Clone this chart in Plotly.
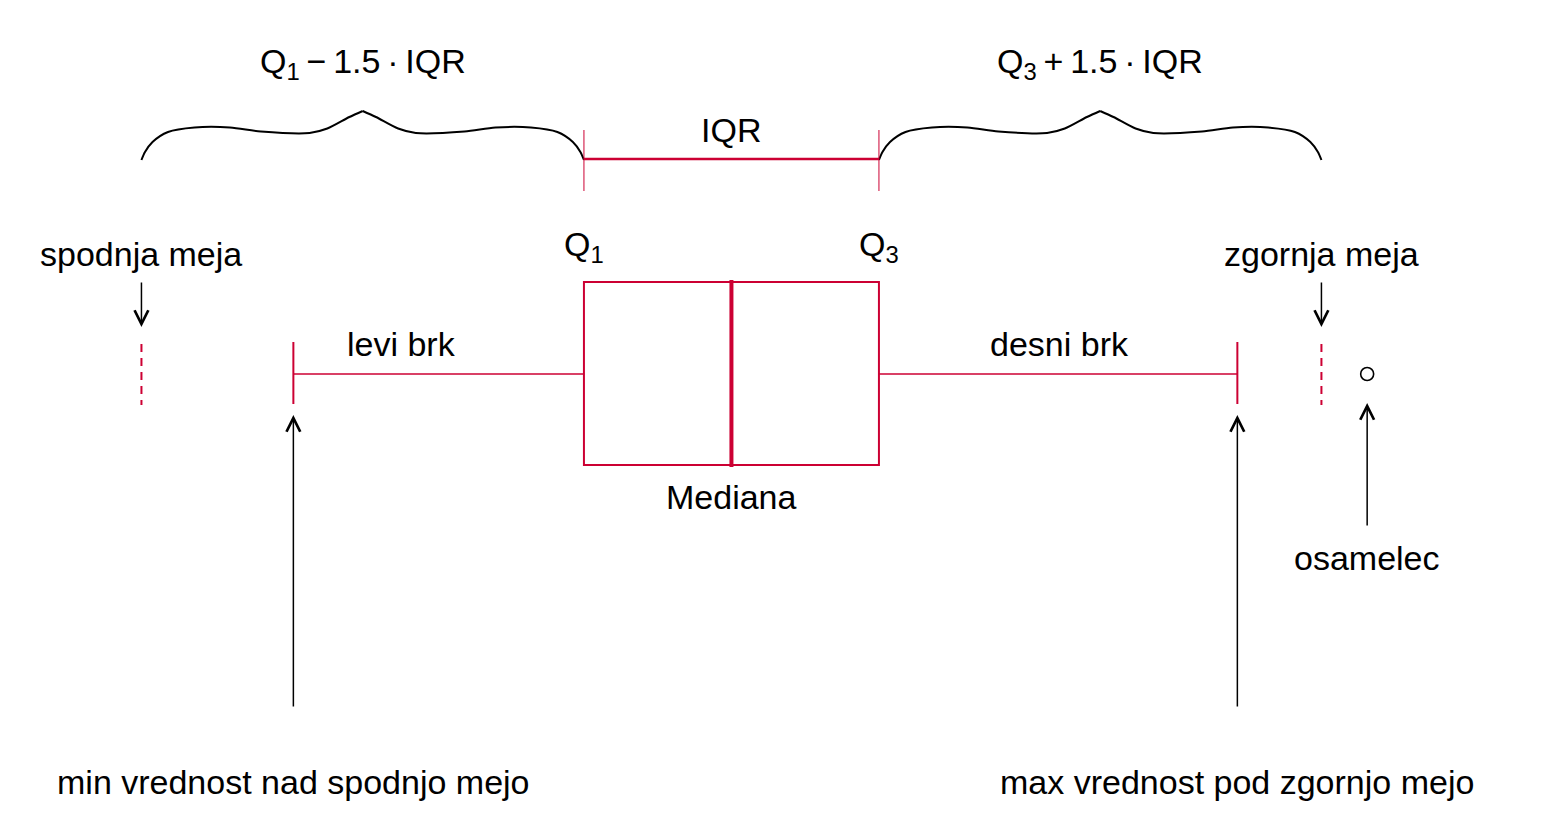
import plotly.graph_objects as go

# ---- data (values of the measured variable) ----
q1 = 4.0
q3 = 6.0
median = 5.0
min_above_lower = 2.03
max_below_upper = 8.43
outliers = [9.31]
iqr = q3 - q1
lower_fence = q1 - 1.5 * iqr
upper_fence = q3 + 1.5 * iqr

RED = "#cc0033"
BLACK = "#000000"
FONT = "Liberation Sans, Arial, sans-serif"
FS = 34

fig = go.Figure()

# ---- braces over the 1.5*IQR spans ----
profile = [(0.0, 160), (0.008, 152), (0.025, 142), (0.06, 132), (0.12, 127.5),
           (0.2, 127.5), (0.27, 131.5), (0.38, 133), (0.42, 128.5), (0.47, 117), (0.5, 111)]


def brace(xa, xb):
    w = xb - xa
    xs, ys = [], []
    for t, yy in profile:
        xs.append(xa + t * w)
        ys.append(yy)
    xs.append(None)
    ys.append(None)
    for t, yy in reversed(profile):
        xs.append(xa + (1 - t) * w)
        ys.append(yy)
    return xs, ys


for xa, xb in [(lower_fence, q1), (q3, upper_fence)]:
    bx, by = brace(xa, xb)
    fig.add_trace(go.Scatter(x=bx, y=by, mode="lines", line=dict(color=BLACK, width=2, shape="spline", smoothing=0.8),
                             hoverinfo="skip", showlegend=False, connectgaps=False))

# ---- outlier ----
fig.add_trace(go.Scatter(x=outliers, y=[374] * len(outliers), mode="markers",
                         marker=dict(symbol="circle-open", size=13, color=BLACK, line=dict(width=1.6, color=BLACK)),
                         hoverinfo="skip", showlegend=False))

shapes = []
# box
shapes.append(dict(type="rect", x0=q1, x1=q3, y0=282, y1=465, line=dict(color=RED, width=2)))
# median
shapes.append(dict(type="line", x0=median, x1=median, y0=280, y1=467, line=dict(color=RED, width=4)))
# whiskers
shapes.append(dict(type="line", x0=min_above_lower, x1=q1, y0=374, y1=374, line=dict(color=RED, width=1.3)))
shapes.append(dict(type="line", x0=q3, x1=max_below_upper, y0=374, y1=374, line=dict(color=RED, width=1.3)))
# caps
for xv in [min_above_lower, max_below_upper]:
    shapes.append(dict(type="line", x0=xv, x1=xv, y0=342, y1=404, line=dict(color=RED, width=2)))
# fences (dashed)
for xv in [lower_fence, upper_fence]:
    shapes.append(dict(type="line", x0=xv, x1=xv, y0=344, y1=405, line=dict(color=RED, width=2, dash="8px,6px")))
# IQR bracket
shapes.append(dict(type="line", x0=q1, x1=q3, y0=159, y1=159, line=dict(color=RED, width=2.5)))
for xv in [q1, q3]:
    shapes.append(dict(type="line", x0=xv, x1=xv, y0=130, y1=191, line=dict(color=RED, width=1)))

ann = []


def label(x, y, text):
    ann.append(dict(x=x, y=y, xref="x", yref="y", text=text, showarrow=False,
                    xanchor="center", yanchor="middle", font=dict(family=FONT, size=FS, color=BLACK)))


TS = "\u2009"
label((lower_fence + q1) / 2, 63, "Q<sub>1</sub>" + TS + "\u2212" + TS + "1.5" + TS + "\u00b7" + TS + "IQR")
label((q3 + upper_fence) / 2, 63, "Q<sub>3</sub>" + TS + "+" + TS + "1.5" + TS + "\u00b7" + TS + "IQR")
label((q1 + q3) / 2, 130, "IQR")
label(q1, 246, "Q<sub>1</sub>")
label(q3, 246, "Q<sub>3</sub>")
label(lower_fence, 254, "spodnja meja")
label(upper_fence, 254, "zgornja meja")
label(2.766, 344, "levi brk")
label(7.227, 344, "desni brk")
label(median, 497, "Mediana")
label(outliers[0], 558, "osamelec")
label(min_above_lower, 782, "min vrednost nad spodnjo mejo")
label(max_below_upper, 782, "max vrednost pod zgornjo mejo")


def arrow(x, ytip, ytail):
    ann.append(dict(x=x, y=ytip, ax=x, ay=ytail, xref="x", yref="y", axref="x", ayref="y",
                    text="", showarrow=True, arrowhead=5, arrowsize=1.8, arrowwidth=1.5,
                    arrowcolor=BLACK, standoff=0, startstandoff=0))


arrow(lower_fence, 327, 281)
arrow(upper_fence, 327, 281)
arrow(min_above_lower, 415, 708)
arrow(max_below_upper, 415, 708)
arrow(outliers[0], 403, 527)

fig.update_layout(
    width=1562, height=826,
    margin=dict(l=0, r=0, t=0, b=0),
    paper_bgcolor="white", plot_bgcolor="white",
    xaxis=dict(range=[0.041, 10.631], visible=False, showgrid=False, zeroline=False, fixedrange=True),
    yaxis=dict(range=[826, 0], visible=False, showgrid=False, zeroline=False, fixedrange=True),
    shapes=shapes, annotations=ann, showlegend=False,
)

fig.write_html("out.html", config={"displayModeBar": False},
               post_script="document.body.style.margin='0';document.body.style.overflow='hidden';")
